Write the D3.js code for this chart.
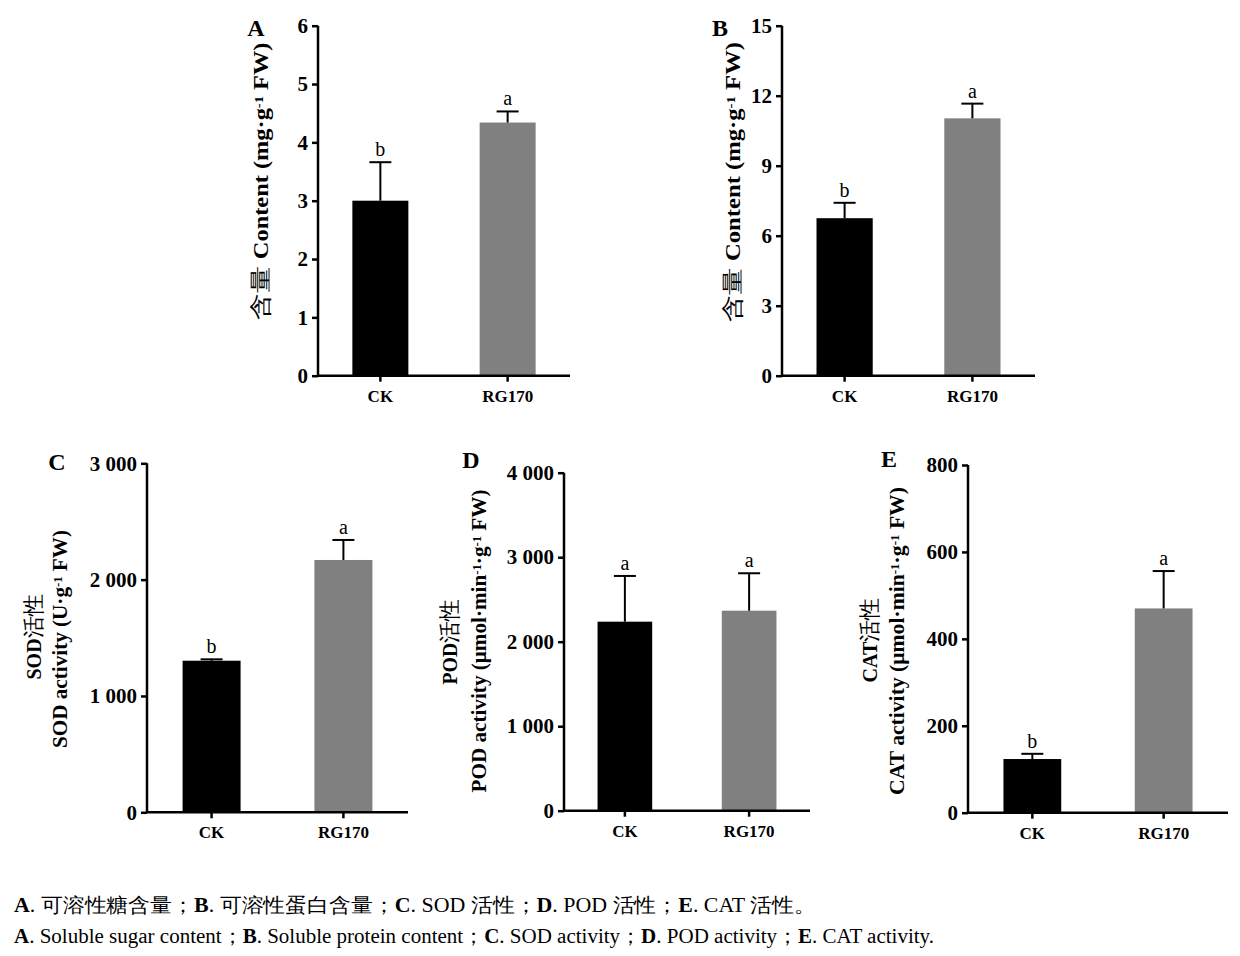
<!DOCTYPE html>
<html>
<head>
<meta charset="utf-8">
<script src="https://cdn.jsdelivr.net/npm/d3@7"></script>
<style>
  body { margin: 0; background: #fff; }
  svg text { font-family: "Liberation Serif", "Times New Roman", serif; }
  .axis path, .axis line { stroke: #000; stroke-width: 2.5; }
  .axis text { font-weight: bold; fill: #000; }
</style>
</head>
<body>
<div id="chart"></div>
<script>
// groups
var groups = ["CK", "RG170"];

// A: soluble sugar (mg/g FW)
var sugarMean = [3.0, 4.34];
var sugarErr = [0.66, 0.19];
var sugarSig = ["b", "a"];
var sugarTicks = [0, 1, 2, 3, 4, 5, 6];

// B: soluble protein (mg/g FW)
var proteinMean = [6.75, 11.03];
var proteinErr = [0.66, 0.63];
var proteinSig = ["b", "a"];
var proteinTicks = [0, 3, 6, 9, 12, 15];

// C: SOD activity
var sodMean = [1303, 2169];
var sodErr = [12, 172];
var sodSig = ["b", "a"];
var sodTicks = [0, 1000, 2000, 3000];

// D: POD activity
var podMean = [2237, 2367];
var podErr = [541, 443];
var podSig = ["a", "a"];
var podTicks = [0, 1000, 2000, 3000, 4000];

// E: CAT activity
var catMean = [123.5, 470];
var catErr = [12, 86];
var catSig = ["b", "a"];
var catTicks = [0, 200, 400, 600, 800];

var colors = ["#000000", "#808080"];

var W = 1240, H = 956;
var svg = d3.select("#chart").append("svg")
	.attr("width", W)
	.attr("height", H);

var fmt = d3.formatLocale({decimal: ".", thousands: " ", grouping: [3], currency: ["", ""]}).format(",");

// label lines: parts are [text, kind] with kind 0 = normal, 1 = superscript, 2 = CJK (not bold)
var panels = [
	{letter: "A", mean: sugarMean, err: sugarErr, sig: sugarSig, ticks: sugarTicks,
	 box: {x0: 318, x1: 570, y0: 375.7, y1: 25.7}, letterPos: [256, 36],
	 labels: [{x: 268, y: 181, len: 277, parts: [["含量 ", 2], ["Content (mg·g", 0], ["-1", 1], [" FW)", 0]]}]},
	{letter: "B", mean: proteinMean, err: proteinErr, sig: proteinSig, ticks: proteinTicks,
	 box: {x0: 782, x1: 1035, y0: 375.7, y1: 25.7}, letterPos: [720, 36],
	 labels: [{x: 740, y: 182, len: 280, parts: [["含量 ", 2], ["Content (mg·g", 0], ["-1", 1], [" FW)", 0]]}]},
	{letter: "C", mean: sodMean, err: sodErr, sig: sodSig, ticks: sodTicks,
	 box: {x0: 147, x1: 408, y0: 812.3, y1: 463.3}, letterPos: [57, 470],
	 labels: [{x: 41, y: 637, len: 85, parts: [["SOD", 0], ["活性", 2]]},
	          {x: 67, y: 639, len: 218, parts: [["SOD activity (U·g", 0], ["-1", 1], [" FW)", 0]]}]},
	{letter: "D", mean: podMean, err: podErr, sig: podSig, ticks: podTicks,
	 box: {x0: 564, x1: 810, y0: 810.7, y1: 472.7}, letterPos: [471, 468],
	 labels: [{x: 457, y: 642, len: 85, parts: [["POD", 0], ["活性", 2]]},
	          {x: 486, y: 641, len: 303, parts: [["POD activity (μmol·min", 0], ["-1", 1], ["·g", 0], ["-1", 1], [" FW)", 0]]}]},
	{letter: "E", mean: catMean, err: catErr, sig: catSig, ticks: catTicks,
	 box: {x0: 968, x1: 1228, y0: 812.7, y1: 465}, letterPos: [889, 467],
	 labels: [{x: 877, y: 640, len: 85, parts: [["CAT", 0], ["活性", 2]]},
	          {x: 904, y: 641, len: 308, parts: [["CAT activity (μmol·min", 0], ["-1", 1], ["·g", 0], ["-1", 1], [" FW)", 0]]}]}
];

panels.forEach(function(p){
	var b = p.box;
	var x = d3.scaleBand().domain(groups).range([b.x0, b.x1])
		.paddingInner(0.56).paddingOuter(0.27);
	var y = d3.scaleLinear().domain([0, d3.max(p.ticks)]).range([b.y0, b.y1]);

	var g = svg.append("g");

	// bars
	g.selectAll("rect.bar").data(groups).enter().append("rect")
		.attr("class", "bar")
		.attr("x", function(d){ return x(d); })
		.attr("width", x.bandwidth())
		.attr("y", function(d, i){ return y(p.mean[i]); })
		.attr("height", function(d, i){ return y(0) - y(p.mean[i]); })
		.attr("fill", function(d, i){ return colors[i]; });

	// error bars (upper only)
	var eb = g.selectAll("g.err").data(groups).enter().append("g").attr("class", "err");
	eb.append("line")
		.attr("x1", function(d){ return x(d) + x.bandwidth() / 2; })
		.attr("x2", function(d){ return x(d) + x.bandwidth() / 2; })
		.attr("y1", function(d, i){ return y(p.mean[i]); })
		.attr("y2", function(d, i){ return y(p.mean[i] + p.err[i]); })
		.attr("stroke", "#000").attr("stroke-width", 2);
	eb.append("line")
		.attr("x1", function(d){ return x(d) + x.bandwidth() / 2 - 11; })
		.attr("x2", function(d){ return x(d) + x.bandwidth() / 2 + 11; })
		.attr("y1", function(d, i){ return y(p.mean[i] + p.err[i]); })
		.attr("y2", function(d, i){ return y(p.mean[i] + p.err[i]); })
		.attr("stroke", "#000").attr("stroke-width", 2);

	// significance letters
	g.selectAll("text.sig").data(groups).enter().append("text")
		.attr("class", "sig")
		.attr("x", function(d){ return x(d) + x.bandwidth() / 2; })
		.attr("y", function(d, i){ return y(p.mean[i] + p.err[i]) - 6; })
		.attr("text-anchor", "middle")
		.style("font-size", "20px")
		.text(function(d, i){ return p.sig[i]; });

	// axes
	var yAxis = d3.axisLeft(y).tickValues(p.ticks).tickSize(6).tickPadding(4)
		.tickFormat(function(d){ return fmt(d); });
	g.append("g").attr("class", "axis")
		.attr("transform", "translate(" + b.x0 + ",0)")
		.call(yAxis)
		.call(function(s){ s.selectAll("text").style("font-size", "21px"); })
		.select(".domain").attr("d", "M0," + b.y0 + "V" + b.y1);

	var xAxis = d3.axisBottom(x).tickSize(6).tickPadding(8);
	g.append("g").attr("class", "axis")
		.attr("transform", "translate(0," + b.y0 + ")")
		.call(xAxis)
		.call(function(s){ s.selectAll("text").style("font-size", "17px"); })
		.select(".domain").attr("d", "M" + (b.x0 - 1) + ",0H" + b.x1);

	// panel letter
	g.append("text")
		.attr("x", p.letterPos[0]).attr("y", p.letterPos[1])
		.attr("text-anchor", "middle")
		.style("font-size", "24px").style("font-weight", "bold")
		.text(p.letter);

	// y labels
	p.labels.forEach(function(l){
		var t = g.append("text")
			.attr("transform", "translate(" + l.x + "," + l.y + ") rotate(-90)")
			.attr("text-anchor", "middle")
			.attr("textLength", l.len).attr("lengthAdjust", "spacingAndGlyphs")
			.style("font-size", "20px").style("font-weight", "bold");
		var raised = false;
		l.parts.forEach(function(pt){
			var ts = t.append("tspan").text(pt[0]);
			if (pt[1] === 1) {
				ts.attr("dy", "-0.45em").style("font-size", "12px");
				raised = true;
			} else if (raised) {
				ts.attr("dy", "0.27em");
				raised = false;
			}
			if (pt[1] === 2) ts.style("font-weight", "normal").style("font-size", "22px");
		});
	});
});

// caption
var cap1 = [["A", 1], [". 可溶性糖含量；", 0], ["B", 1], [". 可溶性蛋白含量；", 0], ["C", 1], [". SOD 活性；", 0],
	["D", 1], [". POD 活性；", 0], ["E", 1], [". CAT 活性。", 0]];
var cap2 = [["A", 1], [". Soluble sugar content；", 0], ["B", 1], [". Soluble protein content；", 0],
	["C", 1], [". SOD activity；", 0], ["D", 1], [". POD activity；", 0], ["E", 1], [". CAT activity.", 0]];

function caption(parts, yy, len){
	var t = svg.append("text").attr("x", 14).attr("y", yy)
		.style("font-size", "20px")
		.attr("textLength", len).attr("lengthAdjust", "spacingAndGlyphs");
	parts.forEach(function(pt){
		t.append("tspan").text(pt[0]).style("font-weight", pt[1] ? "bold" : "normal");
	});
}
caption(cap1, 912, 802);
caption(cap2, 943, 920);
</script>
</body>
</html>
